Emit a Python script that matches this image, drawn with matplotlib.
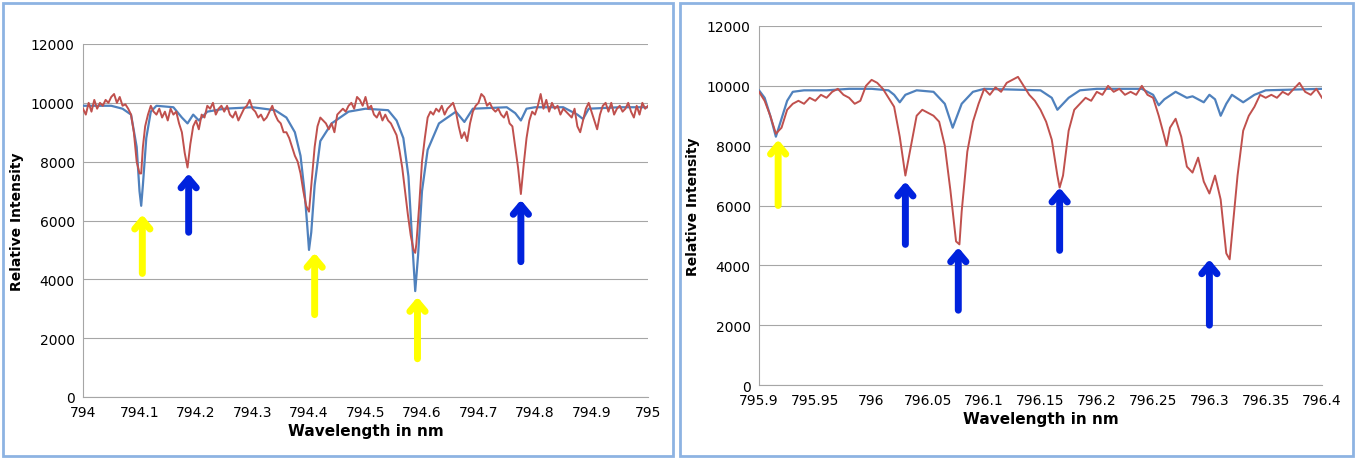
import matplotlib
matplotlib.use("Agg")
import matplotlib.pyplot as plt
from matplotlib.patches import Rectangle

# ---- Left panel data ----
left_model_x = [794.00,794.05,794.07,794.085,794.095,794.100,794.103,794.106,794.112,794.12,794.13,794.16,794.175,794.185,794.195,794.205,794.22,794.25,794.30,794.34,794.36,794.375,794.385,794.392,794.397,794.40,794.404,794.41,794.42,794.44,794.47,794.50,794.54,794.555,794.567,794.576,794.582,794.588,794.593,794.60,794.61,794.63,794.66,794.675,794.69,794.75,794.765,794.775,794.785,794.80,794.85,794.875,794.885,794.895,794.95,795.0]
left_model_y = [9900,9900,9800,9600,8500,7000,6500,7200,8800,9700,9900,9850,9500,9300,9600,9400,9700,9800,9850,9750,9500,9000,8200,7000,5800,5000,5600,7200,8700,9300,9700,9800,9750,9400,8800,7500,5500,3600,4800,7000,8400,9300,9700,9350,9800,9850,9650,9400,9800,9850,9850,9600,9450,9800,9850,9850]

left_obs_x = [794.00,794.005,794.01,794.015,794.02,794.025,794.03,794.035,794.04,794.045,794.05,794.055,794.06,794.065,794.07,794.075,794.08,794.085,794.09,794.095,794.10,794.103,794.106,794.11,794.115,794.12,794.125,794.13,794.135,794.14,794.145,794.15,794.155,794.16,794.165,794.17,794.175,794.18,794.185,794.19,794.195,794.20,794.205,794.21,794.215,794.22,794.225,794.23,794.235,794.24,794.245,794.25,794.255,794.26,794.265,794.27,794.275,794.28,794.285,794.29,794.295,794.30,794.305,794.31,794.315,794.32,794.325,794.33,794.335,794.34,794.345,794.35,794.355,794.36,794.365,794.37,794.375,794.38,794.385,794.39,794.395,794.40,794.405,794.41,794.415,794.42,794.425,794.43,794.435,794.44,794.445,794.45,794.455,794.46,794.465,794.47,794.475,794.48,794.485,794.49,794.495,794.50,794.505,794.51,794.515,794.52,794.525,794.53,794.535,794.54,794.545,794.55,794.555,794.56,794.565,794.57,794.575,794.58,794.585,794.588,794.59,794.595,794.60,794.605,794.61,794.615,794.62,794.625,794.63,794.635,794.64,794.645,794.65,794.655,794.66,794.665,794.67,794.675,794.68,794.685,794.69,794.695,794.70,794.705,794.71,794.715,794.72,794.725,794.73,794.735,794.74,794.745,794.75,794.755,794.76,794.765,794.77,794.775,794.78,794.785,794.79,794.795,794.80,794.805,794.81,794.815,794.82,794.825,794.83,794.835,794.84,794.845,794.85,794.855,794.86,794.865,794.87,794.875,794.88,794.885,794.89,794.895,794.90,794.905,794.91,794.915,794.92,794.925,794.93,794.935,794.94,794.945,794.95,794.955,794.96,794.965,794.97,794.975,794.98,794.985,794.99,794.995,795.00]
left_obs_y = [9800,9600,10000,9700,10100,9800,10000,9900,10100,10000,10200,10300,10000,10200,9900,9950,9800,9600,9000,8000,7600,7600,8500,9200,9600,9900,9700,9600,9800,9500,9700,9400,9800,9600,9700,9300,9000,8300,7800,8600,9200,9400,9100,9600,9500,9900,9800,10000,9600,9800,9900,9700,9900,9600,9500,9700,9400,9600,9800,9900,10100,9800,9700,9500,9600,9400,9500,9700,9900,9600,9400,9300,9000,9000,8800,8500,8200,8000,7600,7000,6500,6300,7400,8500,9200,9500,9400,9300,9100,9300,9000,9600,9700,9800,9700,9900,10000,9800,10200,10100,9900,10200,9800,9900,9600,9500,9700,9400,9600,9400,9300,9100,8900,8400,7800,7000,6200,5500,5000,4900,5200,6500,8000,8800,9500,9700,9600,9800,9700,9900,9600,9800,9900,10000,9700,9200,8800,9000,8700,9300,9700,9900,10000,10300,10200,9900,10000,9800,9700,9800,9600,9500,9700,9300,9200,8500,7800,6900,7900,8800,9400,9700,9600,9900,10300,9800,10100,9700,10000,9800,9900,9600,9800,9700,9600,9500,9800,9200,9000,9400,9800,10000,9700,9400,9100,9600,9900,10000,9700,10000,9600,9800,9900,9700,9800,10000,9700,9500,9900,9600,10000,9800,9900]

left_xticks = [794, 794.1, 794.2, 794.3, 794.4, 794.5, 794.6, 794.7, 794.8, 794.9, 795]
left_xticklabels = ["794","794.1","794.2","794.3","794.4","794.5","794.6","794.7","794.8","794.9","795"]

left_arrows_x = [794.105, 794.41, 794.592, 794.187, 794.775]
left_arrows_tail = [4200, 2800, 1300, 5600, 4600]
left_arrows_head = [6200, 4900, 3400, 7600, 6700]
left_arrows_col = ["#FFFF00", "#FFFF00", "#FFFF00", "#0022DD", "#0022DD"]

# ---- Right panel data ----
right_model_x = [795.90,795.905,795.91,795.915,795.92,795.925,795.93,795.94,795.96,795.98,796.00,796.015,796.02,796.025,796.03,796.04,796.055,796.065,796.072,796.08,796.09,796.10,796.15,796.16,796.165,796.175,796.185,796.20,796.24,796.25,796.255,796.26,796.27,796.28,796.285,796.295,796.30,796.305,796.31,796.315,796.32,796.33,796.34,796.35,796.40]
right_model_y = [9850,9600,9000,8300,8900,9500,9800,9850,9850,9900,9900,9850,9700,9450,9700,9850,9800,9400,8600,9400,9800,9900,9850,9600,9200,9600,9850,9900,9900,9700,9350,9550,9800,9600,9650,9450,9700,9550,9000,9400,9700,9450,9700,9850,9900]

right_obs_x = [795.900,795.905,795.91,795.915,795.92,795.925,795.93,795.935,795.94,795.945,795.95,795.955,795.96,795.965,795.97,795.975,795.98,795.985,795.99,795.995,796.00,796.005,796.01,796.015,796.02,796.025,796.03,796.035,796.04,796.045,796.05,796.055,796.06,796.065,796.07,796.075,796.078,796.08,796.085,796.09,796.095,796.10,796.105,796.11,796.115,796.12,796.125,796.13,796.135,796.14,796.145,796.15,796.155,796.16,796.165,796.167,796.17,796.175,796.18,796.185,796.19,796.195,796.20,796.205,796.21,796.215,796.22,796.225,796.23,796.235,796.24,796.245,796.25,796.255,796.26,796.262,796.265,796.27,796.275,796.28,796.285,796.29,796.295,796.30,796.305,796.31,796.315,796.318,796.32,796.325,796.33,796.335,796.34,796.345,796.35,796.355,796.36,796.365,796.37,796.375,796.38,796.385,796.39,796.395,796.40]
right_obs_y = [9800,9500,9000,8400,8600,9200,9400,9500,9400,9600,9500,9700,9600,9800,9900,9700,9600,9400,9500,10000,10200,10100,9900,9600,9300,8300,7000,8000,9000,9200,9100,9000,8800,8000,6500,4800,4700,5800,7800,8800,9400,9900,9700,9950,9800,10100,10200,10300,10000,9700,9500,9200,8800,8200,7000,6600,7000,8500,9200,9400,9600,9500,9800,9700,10000,9800,9900,9700,9800,9700,10000,9700,9600,9000,8300,8000,8600,8900,8300,7300,7100,7600,6800,6400,7000,6200,4400,4200,5000,7000,8500,9000,9300,9700,9600,9700,9600,9800,9700,9900,10100,9800,9700,9900,9600]

right_xticks = [795.9, 795.95, 796, 796.05, 796.1, 796.15, 796.2, 796.25, 796.3, 796.35, 796.4]
right_xticklabels = ["795.9","795.95","796","796.05","796.1","796.15","796.2","796.25","796.3","796.35","796.4"]

right_arrows_x = [795.917, 796.03, 796.077, 796.167, 796.30]
right_arrows_tail = [6000, 4700, 2500, 4500, 2000]
right_arrows_head = [8200, 6800, 4600, 6600, 4200]
right_arrows_col = ["#FFFF00", "#0022DD", "#0022DD", "#0022DD", "#0022DD"]

yticks = [0, 2000, 4000, 6000, 8000, 10000, 12000]
RED = "#C0504D"
BLUE = "#4F81BD"

W, H = 1358, 460
fig = plt.figure(figsize=(W/100, H/100), dpi=100)
fig.patch.set_facecolor("white")

for (x0, x1) in [(3, 673), (680, 1353)]:
    fig.patches.append(Rectangle((x0/W, 3/H), (x1-x0)/W, (H-7)/H, transform=fig.transFigure,
                                 fill=False, edgecolor="#8DB3E2", lw=2))

def panel(rect, mx, my, ox, oy, xt, xtl, xlim, ax_x, ax_t, ax_h, ax_c):
    ax = fig.add_axes(rect)
    ax.plot(mx, my, color=BLUE, lw=1.6, zorder=3)
    ax.plot(ox, oy, color=RED, lw=1.4, zorder=4)
    ax.set_xlim(*xlim)
    ax.set_ylim(0, 12000)
    ax.set_yticks(yticks)
    ax.set_yticklabels([str(v) for v in yticks])
    ax.set_xticks(xt)
    ax.set_xticklabels(xtl)
    ax.grid(axis="y", color="#A6A6A6", lw=0.8)
    ax.set_axisbelow(True)
    for s in ["top", "right"]:
        ax.spines[s].set_visible(False)
    for s in ["left", "bottom"]:
        ax.spines[s].set_color("#A6A6A6")
    ax.tick_params(length=0, labelsize=10, pad=6)
    ax.set_xlabel("Wavelength in nm", fontsize=11, fontweight="bold", labelpad=3)
    ax.set_ylabel("Relative Intensity", fontsize=10, fontweight="bold", labelpad=5)
    for x, t, h, c in zip(ax_x, ax_t, ax_h, ax_c):
        ax.annotate("", xy=(x, h), xytext=(x, t),
                    arrowprops=dict(arrowstyle="->,head_width=0.55,head_length=0.65",
                                    color=c, lw=5, shrinkA=0, shrinkB=0), zorder=5)
    return ax

panel([83/W, 1-398/H, (648-83)/W, (398-45)/H], left_model_x, left_model_y, left_obs_x, left_obs_y,
      left_xticks, left_xticklabels, (794, 795), left_arrows_x, left_arrows_tail, left_arrows_head, left_arrows_col)
panel([759/W, 1-386/H, (1322-759)/W, (386-27)/H], right_model_x, right_model_y, right_obs_x, right_obs_y,
      right_xticks, right_xticklabels, (795.9, 796.4), right_arrows_x, right_arrows_tail, right_arrows_head, right_arrows_col)

fig.savefig("out.png", dpi=100)
